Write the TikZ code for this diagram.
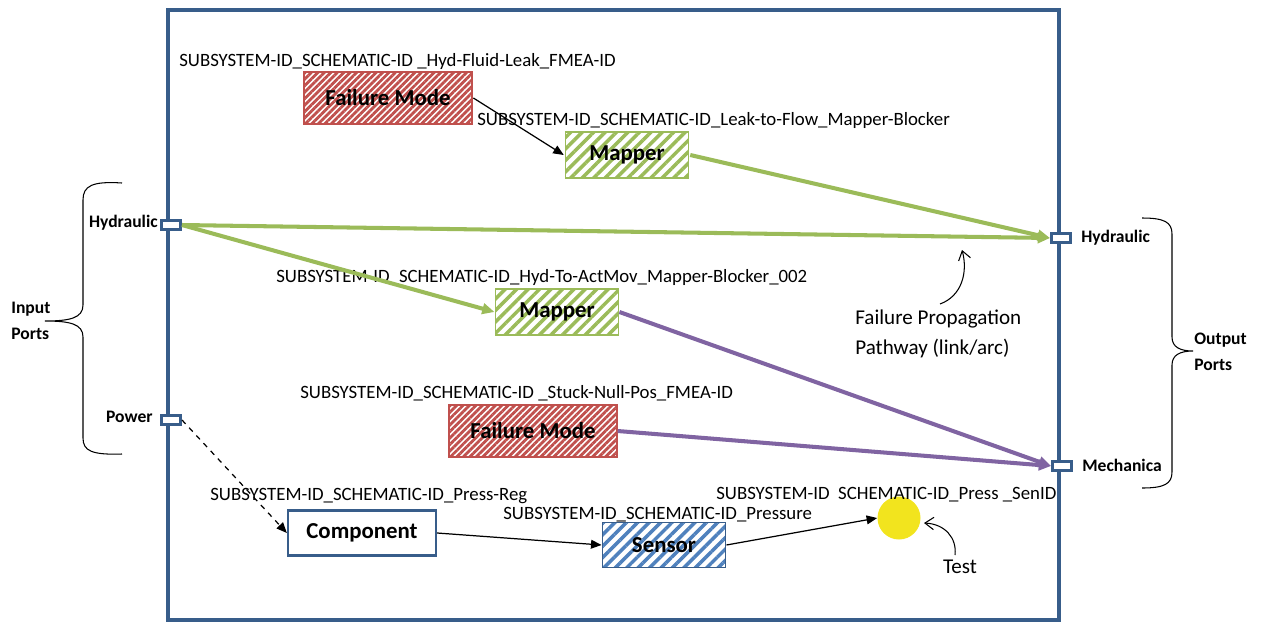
\documentclass[tikz,border=0pt]{standalone}
\usepackage{fontspec}
\setmainfont{Carlito}
\usepackage{tikz}
\usetikzlibrary{arrows.meta,patterns.meta}
\definecolor{frameblue}{RGB}{56,93,138}
\definecolor{fmred}{RGB}{192,80,77}
\definecolor{mapgreen}{RGB}{155,187,89}
\definecolor{linkpurple}{RGB}{128,100,162}
\definecolor{senblue}{RGB}{79,129,189}
\definecolor{testyellow}{RGB}{242,228,30}

\begin{document}
\begin{tikzpicture}[x=0.02cm, y=-0.02cm,
  idlabel/.style={anchor=west, inner sep=0pt, font=\fontsize{10.7}{12}\selectfont},
  portlab/.style={inner sep=0pt, font=\bfseries\fontsize{10}{14.7}\selectfont},
  port/.style={draw=frameblue, line width=1.7pt, fill=white, minimum width=0.38cm, minimum height=0.19cm, inner sep=0pt},
  boxtext/.style={inner sep=0pt, font=\bfseries\fontsize{13}{15}\selectfont},
  fmode/.style={boxtext, draw=fmred, line width=0.8pt, minimum width=3.36cm, minimum height=1.04cm, pattern={Lines[angle=45,distance=2.6pt,line width=1.6pt]}, pattern color=fmred},
  mapper/.style={boxtext, draw=mapgreen, line width=1.1pt, minimum width=2.46cm, minimum height=0.92cm, pattern={Lines[angle=45,distance=4.6pt,line width=2pt]}, pattern color=mapgreen},
  compbox/.style={boxtext, draw=frameblue, line width=1.3pt, fill=white, minimum width=2.96cm, minimum height=0.9cm},
  sensbox/.style={boxtext, draw=frameblue, line width=1.1pt, minimum width=2.46cm, minimum height=0.9cm, pattern={Lines[angle=45,distance=4.6pt,line width=2pt]}, pattern color=senblue},
  greenlink/.style={mapgreen, line width=2.3pt, -{Triangle[length=7pt,width=6pt]}},
  purplelink/.style={linkpurple, line width=2.3pt, -{Triangle[length=7pt,width=6pt]}},
  plainlink/.style={black, line width=0.7pt, -{Triangle[length=6pt,width=5pt]}},
  pointer/.style={black, line width=0.6pt, -{Straight Barb[length=5pt,width=7pt]}},
  bracket/.style={black, line width=0.6pt}
]
\useasboundingbox (0,0) rectangle (1261,623);

% block frame
\draw[frameblue, line width=2pt] (168,10) rectangle (1059,620);

% ports
\node[port] (inhyd) at (171,225) {};
\node[port] (inpow) at (171,420) {};
\node[port] (outhyd) at (1061,238) {};
\node[port] (outmech) at (1062,466) {};

\node[portlab, anchor=east] (inhydlab) at (158,223) {Hydraulic};
\node[portlab, anchor=east] (inpowlab) at (153,417) {Power};
\node[portlab, anchor=west] (outhydlab) at (1081,238) {Hydraulic};
\node[portlab, anchor=west] (outmechlab) at (1082,465) {Mechanica};

% port groups
\draw[bracket] (122,183) .. controls (92,181) and (83,186) .. (83,200) -- (83,305)
  .. controls (83,318) and (70,321) .. (45,321)
  .. controls (70,321) and (83,324) .. (83,337) -- (83,438)
  .. controls (83,451) and (92,455) .. (122,454);
\draw[bracket] (1142,218) .. controls (1164,218) and (1172,222) .. (1172,234) -- (1172,337)
  .. controls (1172,347) and (1180,351) .. (1193,351)
  .. controls (1180,351) and (1172,355) .. (1172,365) -- (1172,472)
  .. controls (1172,484) and (1164,488) .. (1142,488);
\node[portlab, anchor=west, align=left] (inports) at (11,321) {Input\\Ports};
\node[portlab, anchor=west, align=left] (outports) at (1194,352) {Output\\Ports};

% blocks
\node[fmode] (fm1) at (388,98) {Failure Mode};
\node[mapper] (map1) at (627,155) {Mapper};
\node[mapper] (map2) at (557,312) {Mapper};
\node[fmode] (fm2) at (533,431) {Failure Mode};
\node[compbox] (comp) at (362,533) {Component};
\node[sensbox] (sens) at (664,545) {Sensor};
\node[circle, fill=testyellow, minimum size=0.86cm, inner sep=0pt] (test) at (899,518) {};

% block ids
\node[idlabel] (fm1id) at (179,61) {SUBSYSTEM-ID\_SCHEMATIC-ID \_Hyd-Fluid-Leak\_FMEA-ID};
\node[idlabel] (map1id) at (477,120) {SUBSYSTEM-ID\_SCHEMATIC-ID\_Leak-to-Flow\_Mapper-Blocker};
\node[idlabel] (map2id) at (276,277) {SUBSYSTEM-ID\_SCHEMATIC-ID\_Hyd-To-ActMov\_Mapper-Blocker\_002};
\node[idlabel] (fm2id) at (300,393) {SUBSYSTEM-ID\_SCHEMATIC-ID \_Stuck-Null-Pos\_FMEA-ID};
\node[idlabel] (compid) at (210,496) {SUBSYSTEM-ID\_SCHEMATIC-ID\_Press-Reg};
\node[idlabel] (sensid) at (503,515) {SUBSYSTEM-ID\_SCHEMATIC-ID\_Pressure};
\node[idlabel] (testid) at (716,495) {SUBSYSTEM-ID\ \ SCHEMATIC-ID\_Press \_SenID};

% notes
\node[anchor=west, inner sep=0pt, align=left, font=\fontsize{12}{17}\selectfont] (fpp) at (855,334) {Failure Propagation\\Pathway (link/arc)};
\node[inner sep=0pt, font=\fontsize{12}{14}\selectfont] (testlab) at (960,567) {Test};
\coordinate (fpptip) at (962,250);
\coordinate (fppfoot) at (940,304);
\coordinate (testtip) at (924,523);
\coordinate (testfoot) at (955,555);

% pathways
\draw[plainlink] (fm1.east) -- (map1.west);
\draw[greenlink] (map1.east) -- (outhyd.west);
\draw[greenlink] (inhyd.east) -- (outhyd.west);
\draw[greenlink] (inhyd.east) -- (map2.west);
\draw[purplelink] (map2.east) -- (outmech.west);
\draw[purplelink] (fm2.east) -- (outmech.west);
\draw[plainlink, dashed] (inpow.east) -- (comp.west);
\draw[plainlink] (comp.east) -- (sens.west);
\draw[plainlink] (sens.east) -- (test.west);

\draw[pointer] (fppfoot) .. controls (962,296) and (968,272) .. (fpptip);
\draw[pointer] (testfoot) .. controls (957,538) and (945,524) .. (testtip);

\end{tikzpicture}
\end{document}
